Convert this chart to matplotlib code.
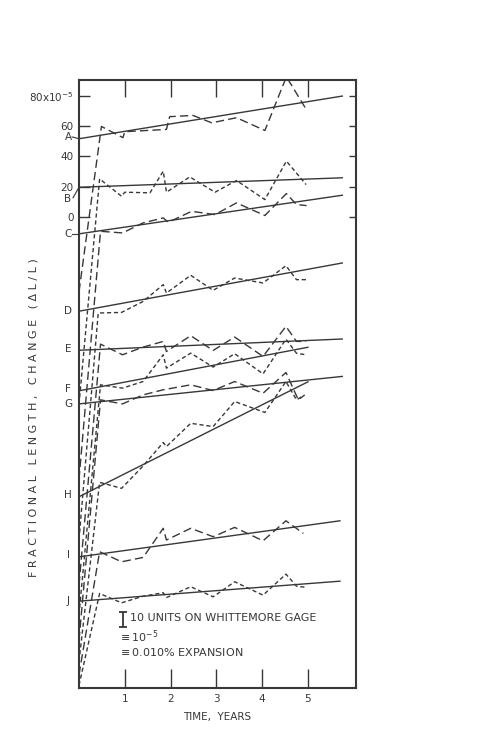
import matplotlib
matplotlib.use("Agg")
import matplotlib.pyplot as plt

# ---------------- data (units of 1e-5, offset curves) ----------------
labels = ["A", "B", "C", "D", "E", "F", "G", "H", "I", "J"]
label_y = [53, 12, -11.5, -63, -88, -115, -124.5, -185.5, -225.5, -256]

# measured points (time in years, offset value)
t_A = [0, 0.49, 0.96, 1.0, 1.91, 1.98, 2.49, 2.9, 3.44, 4.06, 4.53, 4.97]
v_A = [-50, 60, 52.5, 56.5, 58, 66.5, 67.3, 62.4, 65.8, 57.3, 93, 71]
t_B = [0, 0.45, 0.93, 1.0, 1.55, 1.84, 1.91, 2.42, 2.97, 3.44, 4.06, 4.53, 4.96]
v_B = [-125, 25.1, 13.5, 16.2, 15.8, 30.2, 16.2, 26.4, 16.2, 24, 11.3, 36.9, 21.3]
t_C = [0, 0.47, 0.95, 1.4, 1.84, 1.95, 2.46, 2.97, 3.44, 4.06, 4.53, 4.75, 4.97]
v_C = [-175, -9.8, -10.9, -4.2, -0.9, -3.8, 3.5, 1.3, 9.1, 0.7, 15.3, 8, 7.3]
t_D = [0, 0.42, 0.93, 1.4, 1.84, 1.91, 2.44, 2.93, 3.4, 4.02, 4.52, 4.75, 4.96]
v_D = [-215, -64.2, -63.8, -56.5, -45.3, -50.9, -39.1, -49.1, -40.9, -44.2, -32.7, -42, -42]
t_E = [0, 0.47, 0.95, 1.4, 1.84, 1.91, 2.44, 2.93, 3.4, 4.02, 4.52, 4.75, 4.96]
v_E = [-245, -84.9, -92, -86.9, -83.1, -89.8, -79.3, -89.1, -80.2, -93.1, -73.1, -83.1, -83.1]
t_F = [0, 0.47, 0.95, 1.4, 1.84, 1.91, 2.44, 2.93, 3.4, 4.02, 4.52, 4.75, 4.96]
v_F = [-265, -112, -114.2, -109.8, -92, -100.9, -90.9, -100.2, -91.3, -104.7, -81.6, -91, -92]
t_G = [0, 0.47, 0.95, 1.4, 1.84, 2.44, 2.93, 3.4, 4.02, 4.52, 4.79, 4.93]
v_G = [-282, -122, -124.7, -118.7, -115.3, -112, -115.8, -109.8, -117.6, -103.8, -122, -118.7]
t_H = [0, 0.45, 0.93, 1.4, 1.84, 1.91, 2.44, 2.93, 3.4, 4.06, 4.52, 4.75, 4.9]
v_H = [-296, -176.9, -180.9, -166, -150.4, -153.1, -137.6, -139.8, -123.1, -130.4, -109.8, -122, -119.3]
t_I = [0, 0.45, 0.93, 1.4, 1.84, 1.91, 2.44, 2.93, 3.4, 4.02, 4.52, 4.9]
v_I = [-305, -223.1, -229.8, -226.9, -207.5, -215.3, -207.5, -213.1, -206.9, -215.8, -202.5, -210.9]
t_J = [0, 0.45, 0.93, 1.4, 1.84, 1.91, 2.44, 2.93, 3.4, 4.02, 4.52, 4.75, 4.93]
v_J = [-312, -250.9, -257.1, -252.7, -250.4, -253.6, -246.4, -253.1, -243.1, -252, -238, -246, -246.7]

# fitted straight lines: (start value, end time, end value)
fit_start = [51.8, 19.5, -11.5, -63, -89, -116, -124.7, -186.5, -226.5, -256]
fit_end_t = [5.75, 5.75, 5.75, 5.75, 5.75, 5.0, 5.75, 5.0, 5.7, 5.7]
fit_end_v = [80.2, 25.8, 14.2, -30.9, -81.5, -87, -106.4, -110, -202.5, -242.7]

xticks = [1, 2, 3, 4, 5]
yticks = [80, 60, 40, 20, 0]
ytick_labels = [r"80x10$^{-5}$", "60", "40", "20", "0"]

series_t = [t_A, t_B, t_C, t_D, t_E, t_F, t_G, t_H, t_I, t_J]
series_v = [v_A, v_B, v_C, v_D, v_E, v_F, v_G, v_H, v_I, v_J]

# ---------------- drawing ----------------
INK = "#383838"
plt.rcParams["font.family"] = ["DejaVu Sans"]

fig = plt.figure(figsize=(5.02, 7.32), dpi=100)
ax = fig.add_axes([79 / 502, 1 - 688 / 732, (356 - 79) / 502, (688 - 80) / 732])
ax.set_xlim(0, 6.05)
ax.set_ylim(-313.8, 90.9)

long_dash = (0, (6, 3))
short_dash = (0, (3, 2))
for i, (tt, vv) in enumerate(zip(series_t, series_v)):
    ls = long_dash if i % 2 == 0 else short_dash
    ax.plot(tt, vv, color=INK, lw=1.0, linestyle=ls)
    ax.plot([0, fit_end_t[i]], [fit_start[i], fit_end_v[i]], color=INK, lw=1.0)
    ax.text(-0.24, label_y[i], labels[i], ha="center", va="center",
            fontsize=7.5, color=INK, clip_on=False)

# leader ticks from letters
for y0, y1 in [(53, 51.8), (-11.5, -11.5)]:
    ax.plot([-0.15, 0], [y0, y1], color=INK, lw=0.8, clip_on=False)
ax.plot([-0.13, 0], [12.5, 19.5], color=INK, lw=0.8, clip_on=False)

# axes styling
for s in ax.spines.values():
    s.set_color(INK)
    s.set_linewidth(1.5)
ax.set_xticks(xticks)
ax.set_xticklabels([str(v) for v in xticks])
ax.set_yticks(yticks)
ax.set_yticklabels(ytick_labels)
ax.tick_params(axis="both", direction="in", colors=INK, labelsize=7.5,
               width=1.0, top=True, right=True)
ax.tick_params(axis="x", length=14, pad=4)
ax.tick_params(axis="y", length=8, pad=4)
for tk in ax.yaxis.get_major_ticks():
    tk.tick2line.set_markersize(5)
for tk in ax.xaxis.get_major_ticks():
    tk.tick2line.set_markersize(12)

ax.set_xlabel("TIME,  YEARS", fontsize=7.5, color=INK, labelpad=6)
ylab = "   ".join(" ".join(w) for w in ["FRACTIONAL", "LENGTH,", "CHANGE", "(ΔL/L)"])
ax.set_ylabel(ylab, fontsize=8, color=INK)
ax.yaxis.set_label_coords(-0.148, 0.445)

# scale annotation
ax.errorbar([0.96], [-268], yerr=[[5], [5]], color=INK, capsize=3, lw=1.3,
            capthick=1.3)
ax.text(1.12, -267, "10 UNITS ON WHITTEMORE GAGE", fontsize=8, color=INK,
        va="center", ha="left")
ax.text(0.86, -279.5, r"$\equiv$10$^{-5}$", fontsize=8, color=INK,
        va="center", ha="left")
ax.text(0.86, -290, r"$\equiv$0.010% EXPANSION", fontsize=8, color=INK,
        va="center", ha="left")

fig.savefig("out.png", dpi=100, facecolor="white")
